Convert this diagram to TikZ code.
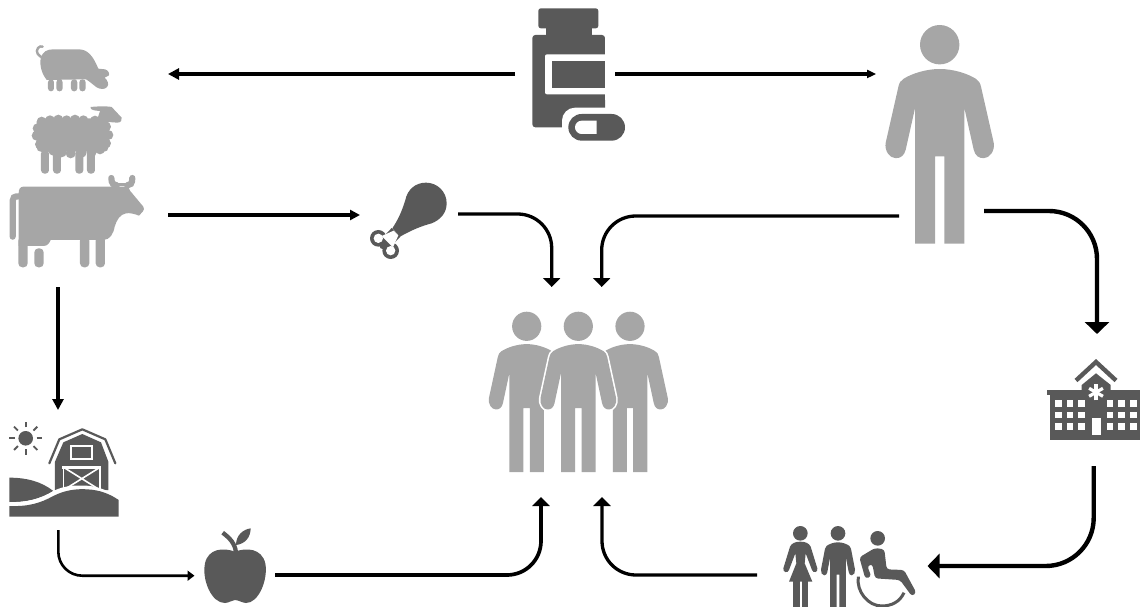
\documentclass[tikz,border=0pt]{standalone}
\usetikzlibrary{arrows.meta}
\definecolor{lightic}{HTML}{A6A6A6}
\definecolor{darkic}{HTML}{595959}
\tikzset{
  lic/.style={fill=lightic,draw=none},
  dic/.style={fill=darkic,draw=none},
  wic/.style={fill=white,draw=none},
  flow/.style={draw=black,line width=3.3pt,-{Triangle[length=9pt,width=17pt]}},
  flowflat/.style={draw=black,line width=3.1pt,-{Triangle[length=11pt,width=11pt]}},
  flowthin/.style={draw=black,line width=2.6pt,-{Triangle[length=7pt,width=10pt]}},
  flowbig/.style={draw=black,line width=4.4pt,-{Triangle[length=12pt,width=24pt]}},
  zoomA/.style={shift={(0,30)},scale=1/3},
  zoomC/.style={shift={(0,410)},scale=1/3},
  zoomD/.style={shift={(760,350)},scale=1/3},
  zoomB/.style={shift={(350,0)},scale=1/3}
}
\newcommand{\personbody}[1]{%
  \path[#1] (0,24.3) .. controls (-14,24.3) and (-28,29) .. (-36,34)
   .. controls (-39,36) and (-40.5,38) .. (-41.3,42) -- (-54,98)
   .. controls (-55.5,106) and (-50,113.5) .. (-44,113.5)
   .. controls (-39,113.5) and (-35.5,111) .. (-34,105) -- (-24.7,63.5)
   -- (-24.7,199) -- (-4.6,199) -- (-4.6,111.6) -- (4.6,111.6) -- (4.6,199) -- (24.7,199) -- (24.7,63.5)
   -- (34,105) .. controls (35.5,111) and (39,113.5) .. (44,113.5)
   .. controls (50,113.5) and (55.5,106) .. (54,98)
   -- (41.3,42) .. controls (40.5,38) and (39,36) .. (36,34)
   .. controls (28,29) and (14,24.3) .. (0,24.3) -- cycle;}
\begin{document}
\begin{tikzpicture}[x=1pt,y=-1pt]
\useasboundingbox (0,0) rectangle (1140,607);
% ---------- pill bottle
\begin{scope}[zoomB]
\fill[dic,rounded corners=2.5pt] (565,25) rectangle (745,85);
\fill[dic] (587,80) rectangle (725,110);
\fill[dic,rounded corners=3pt] (547,105) rectangle (765,382);
\fill[wic,rounded corners=2pt] (585,163) rectangle (790,283);
\fill[wic] (766,100) rectangle (800,300);
\fill[dic] (607,183) rectangle (765,263);
\fill[wic,rounded corners=13pt] (636,323) rectangle (844,441);
\fill[wic] (700,323) rectangle (790,345);
\fill[dic,rounded corners=13.3pt] (655,342) rectangle (825,422);
\fill[wic] (740,362) -- (695,362) .. controls (684,362) and (675,371) .. (675,382) .. controls (675,393) and (684,402) .. (695,402) -- (740,402) -- cycle;
\end{scope}
% ---------- pig
\begin{scope}[zoomA]
\fill[lic] (122,85) .. controls (128,65) and (140,58) .. (160,58) -- (235,58)
  .. controls (262,58) and (278,75) .. (295,116) -- (315,118) .. controls (325,120) and (330,132) .. (326,137)
  -- (314,143) .. controls (322,150) and (328,162) .. (322,170) .. controls (315,180) and (300,178) .. (290,172)
  .. controls (280,165) and (270,155) .. (258,148) -- (140,150) .. controls (128,135) and (118,110) .. (122,85) -- cycle;
\foreach \a/\b in {144/162,169/188,213/232,238/257}{
  \fill[lic,rounded corners=3pt] (\a,148) rectangle (\b,184);}
\draw[lightic,line width=2.4pt,line cap=round] (132,84) .. controls (115,80) and (105,65) .. (114,54) .. controls (118,49) and (124,48) .. (128,50);
% ---------- sheep
\fill[lic,rounded corners=4pt] (110,265) rectangle (325,365);
\foreach \p in {{125,275},{150,271},{175,269},{200,271},{225,269},{250,271},{285,272},{318,290},
   {113,295},{110,317},{120,343},{325,315},{318,340},{300,358},{135,355},{160,362},{185,367},{212,370},{245,368},{275,366}}{
  \fill[lic] (\p) circle (15);}
\fill[lic] (272,231) .. controls (290,229) and (320,228) .. (335,231) -- (365,263)
   .. controls (368,270) and (362,278) .. (352,278) -- (325,276) -- (315,300) -- (285,290) -- (300,243)
   .. controls (285,242) and (268,240) .. (272,231) -- cycle;
\foreach \a/\b in {123/147,159/183,226/250,261/285}{
  \fill[lic,rounded corners=3.5pt] (\a,360) rectangle (\b,431);}
% ---------- cow
\fill[lic] (70,470) -- (385,470) -- (390,482) -- (430,530) .. controls (434,536) and (432,540) .. (428,545)
  -- (417,557) .. controls (405,552) and (390,548) .. (378,550) .. controls (360,553) and (350,570) .. (344,590)
  .. controls (340,612) and (330,628) .. (312,630) -- (152,630) .. controls (148,640) and (142,648) .. (130,648)
  -- (56,648) -- (56,490) .. controls (56,478) and (60,470) .. (70,470) -- cycle;
\foreach \a/\b in {55/83,240/268,287/315}{
  \fill[lic,rounded corners=4pt] (\a,620) rectangle (\b,712);}
\fill[lic,rounded corners=4pt] (103,655) rectangle (131,712);
\draw[lightic,line width=3pt] (345,464) -- (385,464);
\draw[lightic,line width=6.2pt,line cap=round] (334,444) .. controls (334,462) and (342,466) .. (350,466);
\draw[lightic,line width=6.2pt,line cap=round] (397,444) .. controls (397,462) and (390,466) .. (382,466);
\draw[lightic,line width=6.2pt,line cap=round] (38,620) -- (38,512) .. controls (38,503) and (42,499) .. (56,499);
\end{scope}
% ---------- drumstick
\begin{scope}[zoomB]
\fill[dic] (85,715) circle (25);
\fill[dic] (122,752) circle (25);
\fill[dic] (91,720) -- (117,746) -- (151,710) -- (125,684) -- cycle;
\fill[wic] (85,715) circle (14);
\fill[wic] (122,752) circle (14);
\fill[wic] (95,708) -- (129,742) -- (145,706) -- (131,692) -- cycle;
\fill[dic] (100,736) circle (12);
\fill[dic] (228,548) .. controls (262,548) and (290,575) .. (290,610) .. controls (290,640) and (270,660) .. (245,670)
  .. controls (215,678) and (185,690) .. (150,710) -- (127,685) .. controls (150,650) and (158,625) .. (166,600)
  .. controls (172,570) and (195,548) .. (228,548) -- cycle;
\end{scope}
% ---------- person, right
\fill[lightic] (939.7,44.7) circle (19.7);
\begin{scope}[shift={(939.7,44.7)}]
\personbody{lic}
\end{scope}
% ---------- group
\foreach \hx in {526.7,578.3,630}{\fill[lightic] (\hx,326.3) circle (14.6);}
\begin{scope}[shift={(526.7,326.3)},xscale=.7,yscale=.733]
\personbody{lic}
\end{scope}
\begin{scope}[shift={(630,326.3)},xscale=.7,yscale=.733]
\personbody{lic}
\end{scope}
\fill[white] (596,360) -- (608,360) -- (612.7,390) -- (612.7,473) -- (596,473) -- cycle;
\fill[white] (560.6,360) -- (548.6,360) -- (544,390) -- (544,473) -- (560.6,473) -- cycle;
\begin{scope}[shift={(578.3,326.3)},xscale=.7,yscale=.733]
\personbody{draw=white,line width=3.2pt,fill=lightic,line join=round}
\personbody{lic}
\end{scope}
\fill[white] (560,472.5) rectangle (600,480);
% ---------- barn + sun
\fill[darkic] (25.7,438.3) circle (7.3);
\foreach \ang in {0,45,...,315}{
  \draw[darkic,line width=1.9pt] (25.7,438.3) ++(\ang:11) -- ++(\ang:5.5);}
\begin{scope}[zoomC]
\fill[dic] (165,240) -- (165,155) -- (190,97) -- (247,72) -- (303,97) -- (325,155) -- (325,240) -- cycle;
\draw[darkic,line width=2.2pt,line cap=round,line join=round] (148,160) -- (178,88) -- (247,58) -- (316,88) -- (346,160);
\draw[white,line width=1.7pt] (214,107) rectangle (276,147);
\fill[wic] (187,168) rectangle (304,178);
\draw[white,line width=1.6pt] (191,172) rectangle (300,240);
\draw[white,line width=1.6pt] (191,172) -- (300,240) (300,172) -- (191,240);
\fill[dic] (28,203) .. controls (80,203) and (125,215) .. (160,243) .. controls (120,268) and (75,278) .. (28,276) -- cycle;
\fill[wic] (28,276) .. controls (75,278) and (120,268) .. (160,243) .. controls (190,228) and (220,225) .. (260,227) .. controls (300,230) and (330,245) .. (357,262) -- (357,300) -- (28,300) -- cycle;
\fill[dic] (28,288) .. controls (85,290) and (120,280) .. (160,258) .. controls (195,240) and (230,236) .. (262,238) .. controls (300,240) and (330,252) .. (356,270) -- (356,320) -- (28,320) -- cycle;
\end{scope}
% ---------- apple
\begin{scope}[zoomC]
\fill[dic] (705,425) .. controls (670,412) and (625,415) .. (615,460) .. controls (605,510) and (635,580) .. (675,579)
  .. controls (690,578) and (695,570) .. (705,570) .. controls (715,570) and (725,578) .. (738,579)
  .. controls (775,580) and (805,510) .. (796,460) .. controls (785,415) and (740,412) .. (705,425) -- cycle;
\draw[darkic,line width=4.3pt] (668,368) .. controls (690,385) and (705,400) .. (708,428);
\fill[dic] (708,405) .. controls (708,375) and (730,358) .. (752,355) .. controls (752,382) and (735,402) .. (708,405) -- cycle;
\end{scope}
% ---------- hospital
\fill[darkic] (1047.3,390) rectangle (1140,395);
\fill[darkic] (1050,394) rectangle (1140,440);
\fill[darkic] (1081.7,391) -- (1081.7,385) -- (1096,373.3) -- (1110.7,385) -- (1110.7,391) -- cycle;
\draw[darkic,line width=4.4pt] (1076,380.5) -- (1096,362) -- (1116,380.5);
\foreach \wx in {1055,1066.7,1078.3,1106.7,1118.3,1130}{
  \foreach \wy in {400,411.7,423.3}{
    \fill[white] (\wx,\wy) rectangle ++(6.7,6.7);}}
\fill[white] (1091.7,418.3) rectangle (1100.7,435);
\foreach \ang in {90,30,-30}{
  \draw[white,line width=3.2pt] (1096,392.3) ++(\ang:8) -- ++(\ang+180:16);}
% ---------- patients
\begin{scope}[zoomD]
\fill[darkic] (121,550) circle (22);
\fill[dic] (121,575) .. controls (105,575) and (95,580) .. (90,590) -- (70,655)
   .. controls (68,668) and (84,670) .. (87,660) -- (106,610) -- (109,640) -- (87,695) -- (157,695) -- (134,640) -- (137,610)
   -- (156,660) .. controls (159,670) and (175,668) .. (172,655) -- (152,590) .. controls (147,580) and (137,575) .. (121,575) -- cycle;
\fill[dic] (100,690) rectangle (120,770);
\fill[dic] (125,690) rectangle (145,770);
\fill[darkic] (234,550) circle (22);
\fill[darkic] (353,565) circle (22);
\end{scope}
\begin{scope}[shift={(838,533.3)},xscale=.315,yscale=.37]
\personbody{dic}
\end{scope}
\begin{scope}[zoomD]
\fill[dic,rounded corners=3pt] (298,622) -- (345,594) -- (373,598) -- (380,658) -- (432,660) -- (469,728) -- (456,739) -- (420,690) -- (345,685) -- (337,642) -- (322,648) -- (334,680) -- (316,686) -- cycle;
\draw[darkic,line width=3pt] (295,680) .. controls (288,725) and (325,768) .. (365,768) .. controls (395,768) and (420,755) .. (432,728);
\end{scope}
% ---------- anchors for connectors
\coordinate (pillL) at (515,74);
\coordinate (pigR) at (168,74);
\coordinate (pillR) at (615,74);
\coordinate (manL) at (876,74);
\coordinate (cowR) at (168,215);
\coordinate (legL) at (360,215);
\coordinate (legR) at (458,214);
\coordinate (bendA) at (551.7,214);
\coordinate (grpA) at (551.7,287);
\coordinate (manB) at (899,216);
\coordinate (bendB) at (601.7,216);
\coordinate (grpB) at (601.7,287);
\coordinate (manC) at (984,211);
\coordinate (bendC) at (1097,211);
\coordinate (hospT) at (1097,334);
\coordinate (hospB) at (1093.7,466);
\coordinate (bendD) at (1093.7,566);
\coordinate (patR) at (927.5,566);
\coordinate (patL) at (757,575);
\coordinate (bendE) at (602,575);
\coordinate (grpC) at (602,497);
\coordinate (appR) at (275,575);
\coordinate (bendF) at (541,575);
\coordinate (grpD) at (541,497);
\coordinate (barnB) at (58.3,530);
\coordinate (bendG) at (58.3,575.7);
\coordinate (appL) at (194.5,575.7);
\coordinate (cowB) at (58,287);
\coordinate (barnT) at (58,410);
% ---------- connectors
\draw[flowflat] (pillL) -- (pigR);
\draw[flowflat,-{Triangle[length=9pt,width=8pt]}] (pillR) -- (manL);
\draw[flowflat,-{Triangle[length=10pt,width=10pt]}] (cowR) -- (legL);
\draw[flow,rounded corners=34pt] (legR) -- (bendA) -- (grpA);
\draw[flow,rounded corners=34pt] (manB) -- (bendB) -- (grpB);
\draw[flowbig,rounded corners=48pt] (manC) -- (bendC) -- (hospT);
\draw[flowbig,rounded corners=48pt] (hospB) -- (bendD) -- (patR);
\draw[flow,rounded corners=34pt] (patL) -- (bendE) -- (grpC);
\draw[flow,rounded corners=34pt,line width=3.7pt] (appR) -- (bendF) -- (grpD);
\draw[flowthin,rounded corners=24pt] (barnB) -- (bendG) -- (appL);
\draw[flowflat] (cowB) -- (barnT);
\end{tikzpicture}
\end{document}
